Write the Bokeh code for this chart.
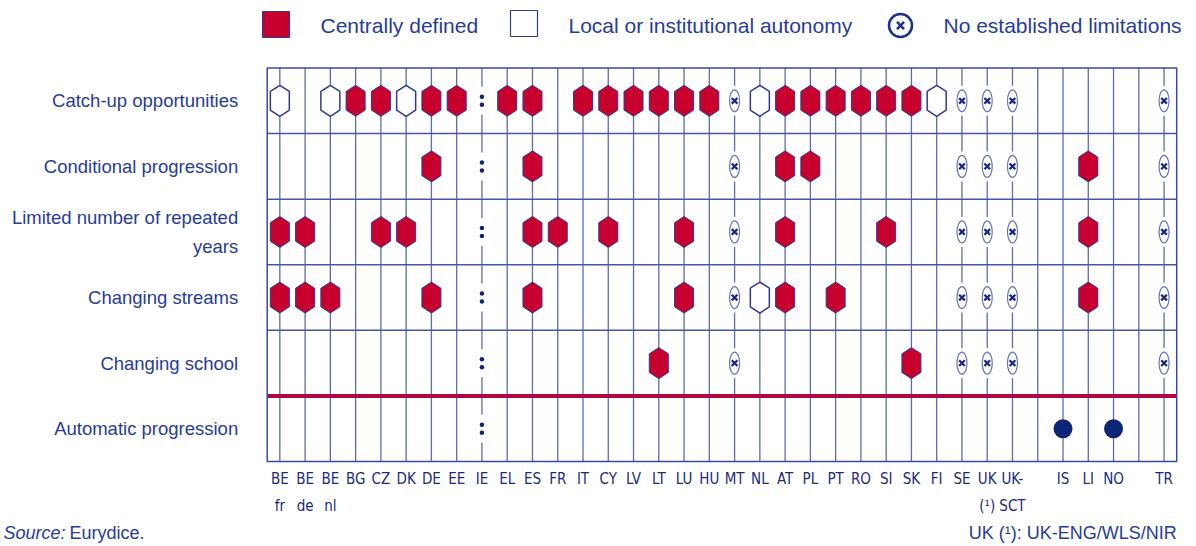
from bokeh.plotting import figure
from bokeh.models import Range1d
from bokeh.embed import file_html
from bokeh.resources import INLINE
from bokeh.core.properties import value

# ---------------- data ----------------
countries = ["BE\nfr", "BE\nde", "BE\nnl", "BG", "CZ", "DK", "DE", "EE", "IE", "EL", "ES", "FR",
             "IT", "CY", "LV", "LT", "LU", "HU", "MT", "NL", "AT", "PL", "PT", "RO", "SI", "SK",
             "FI", "SE", "UK\n(¹)", "UK-\nSCT", "", "IS", "LI", "NO", "", "TR"]

measures = ["Catch-up opportunities", "Conditional progression",
            "Limited number of repeated\nyears", "Changing streams",
            "Changing school", "Automatic progression"]

# C = centrally defined, L = local/institutional autonomy, X = no established limitations,
# A = automatic progression, : = not available, - = nothing
catch_up    = list("L-LCCLCC:CC-CCCCCCXLCCCCCCLXXX-----X")
conditional = list("------C-:-C-------X-CC-----XXX--C--X")
limited     = list("CC--CC--:-CC-C--C-X-C---C--XXX--C--X")
streams     = list("CCC---C-:-C-----C-XLC-C----XXX--C--X")
school      = list("--------:------C--X------C-XXX-----X")
automatic   = list("--------:----------------------A-A--")
rows = [catch_up, conditional, limited, streams, school, automatic]

legend_labels = ["Centrally defined", "Local or institutional autonomy", "No established limitations"]
source_note = ["Source:", "Eurydice."]
uk_note = "UK (¹): UK-ENG/WLS/NIR"

# ---------------- style / layout ----------------
RED = "#c8002d"
NAVY = "#1b2a80"
TEXT = "#283c96"
HEX_LINE = "#30398f"
VLINE = "#6169ae"
HLINE = "#4a55a3"
FRAME = "#3b4a9e"
SEP_RED = "#b0073c"
FONT = "Liberation Sans"
NARROW = "DejaVu Sans Condensed"

W, H = 1196, 546                      # canvas size
GL, GR, GT, GB = 266.7, 1176.2, 67.5, 461.0   # grid box on the canvas (px)
NC, NR = len(countries), len(measures)
U = (GR - GL) / NC                    # px per column
V = (GB - GT) / NR                    # px per row


def px_x(cx):      # canvas px -> data x
    return -0.5 + (cx - GL) / U


def px_y(cy):      # canvas px -> data y (rows grow downward)
    return 0.5 + (cy - GT) / V


HW, HH, SH = 9.5 / U, 15.5 / V, 0.6


def hexagon(x, y):
    return ([x, x + HW, x + HW, x, x - HW, x - HW],
            [y - HH, y - HH * SH, y + HH * SH, y + HH, y + HH * SH, y - HH * SH])


red_xs, red_ys, white_xs, white_ys = [], [], [], []
nx, ny, colx, coly, ax, ay = [], [], [], [], [], []
for r, codes in enumerate(rows):
    yv = r + 1
    for i, c in enumerate(codes):
        if c == "C":
            hx, hy = hexagon(i, yv)
            red_xs.append(hx); red_ys.append(hy)
        elif c == "L":
            hx, hy = hexagon(i, yv)
            white_xs.append(hx); white_ys.append(hy)
        elif c == "X":
            nx.append(i); ny.append(yv)
        elif c == ":":
            colx.append(i); coly.append(yv)
        elif c == "A":
            ax.append(i); ay.append(yv)

p = figure(width=W, height=H,
           x_range=Range1d(px_x(0), px_x(W)), y_range=Range1d(px_y(H), px_y(0)),
           x_axis_type=None, y_axis_type=None,
           output_backend="svg", toolbar_location=None,
           min_border_left=0, min_border_right=0, min_border_top=0, min_border_bottom=0)
p.grid.visible = False
p.outline_line_color = None
p.background_fill_color = "white"
p.border_fill_color = "white"

x_left, x_right = -0.5, NC - 0.5
y_top, y_bottom = 0.5, NR + 0.5

# vertical lines through every slot
slots = list(range(NC))
p.segment(x0=slots, y0=[y_top] * NC, x1=slots, y1=[y_bottom] * NC,
          line_color=VLINE, line_width=1.3)
# horizontal separators
seps = [r + 0.5 for r in range(1, NR - 1)]
p.segment(x0=[x_left] * len(seps), y0=seps, x1=[x_right] * len(seps), y1=seps,
          line_color=HLINE, line_width=1.5)
p.segment(x0=[x_left], y0=[NR - 0.5], x1=[x_right], y1=[NR - 0.5],
          line_color=SEP_RED, line_width=4)
# frame
p.quad(left=[x_left], right=[x_right], top=[y_top], bottom=[y_bottom],
       fill_color=None, line_color=FRAME, line_width=1.5)

# white gaps behind small symbols
p.rect(x=nx, y=ny, width=8, height=30, width_units="screen", height_units="screen",
       fill_color="white", line_color=None)
p.rect(x=colx, y=coly, width=8, height=28, width_units="screen", height_units="screen",
       fill_color="white", line_color=None)

# hexagons
p.patches(xs=red_xs, ys=red_ys, fill_color=RED, line_color=HEX_LINE, line_width=1)
p.patches(xs=white_xs, ys=white_ys, fill_color="white", line_color=HEX_LINE, line_width=1.5)

# circled x: no established limitations
p.ellipse(x=nx, y=ny, width=10, height=22, width_units="screen", height_units="screen",
          fill_color="white", line_color="#6a72b5", line_width=1.2)
p.scatter(x=nx, y=ny, marker="x", size=8, line_color=NAVY, line_width=2.3)

# not available ':'
dot_dy = 4.0 / V
p.scatter(x=colx + colx, y=[v - dot_dy for v in coly] + [v + dot_dy for v in coly],
          marker="circle", size=4.5, fill_color="#0d2577", line_color=None)

# automatic progression
p.scatter(x=ax, y=ay, marker="circle", size=19, fill_color="#0d2577", line_color=None)

# country labels (below the grid)
lab_i = [i for i, c in enumerate(countries) if c]
p.text(x=lab_i, y=[px_y(GB + 8)] * len(lab_i), text=[countries[i] for i in lab_i],
       text_font=value(NARROW), text_font_size="15px", text_color=NAVY,
       text_align="center", text_baseline="top", text_line_height=1.5)

# measure labels (left of the grid)
p.text(x=[px_x(GL - 29)] * NR, y=list(range(1, NR + 1)), text=measures,
       text_font=value(FONT), text_font_size="18.5px", text_color=TEXT,
       text_align="right", text_baseline="middle", text_line_height=1.4)

# legend
p.rect(x=[px_x(275.5)], y=[px_y(24)], width=27, height=26, width_units="screen",
       height_units="screen", fill_color=RED, line_color=HEX_LINE, line_width=1)
p.rect(x=[px_x(523.5)], y=[px_y(23)], width=27, height=26, width_units="screen",
       height_units="screen", fill_color="white", line_color=HEX_LINE, line_width=1.2)
p.scatter(x=[px_x(900)], y=[px_y(25)], marker="circle", size=23, fill_color="white",
          line_color="#1f3088", line_width=2.5)
p.scatter(x=[px_x(900)], y=[px_y(25)], marker="x", size=10, line_color="#1f3088", line_width=2.5)
p.text(x=[px_x(320), px_x(568), px_x(943)], y=[px_y(25)] * 3, text=legend_labels,
       text_font=value(FONT), text_font_size="21px", text_color=TEXT,
       text_baseline="middle", text_align="left")

# footer notes
FOOT_Y = 532
p.text(x=[px_x(3)], y=[px_y(FOOT_Y)], text=[source_note[0]], text_font=value(FONT),
       text_font_style="italic", text_font_size="18px", text_color=TEXT,
       text_baseline="alphabetic", text_align="left")
p.text(x=[px_x(69)], y=[px_y(FOOT_Y)], text=[source_note[1]], text_font=value(FONT),
       text_font_size="18px", text_color=TEXT, text_baseline="alphabetic", text_align="left")
p.text(x=[px_x(GR)], y=[px_y(FOOT_Y)], text=[uk_note], text_font=value(FONT),
       text_font_size="18px", text_color=TEXT, text_baseline="alphabetic", text_align="right")

open("out.html", "w").write(file_html(p, INLINE))
